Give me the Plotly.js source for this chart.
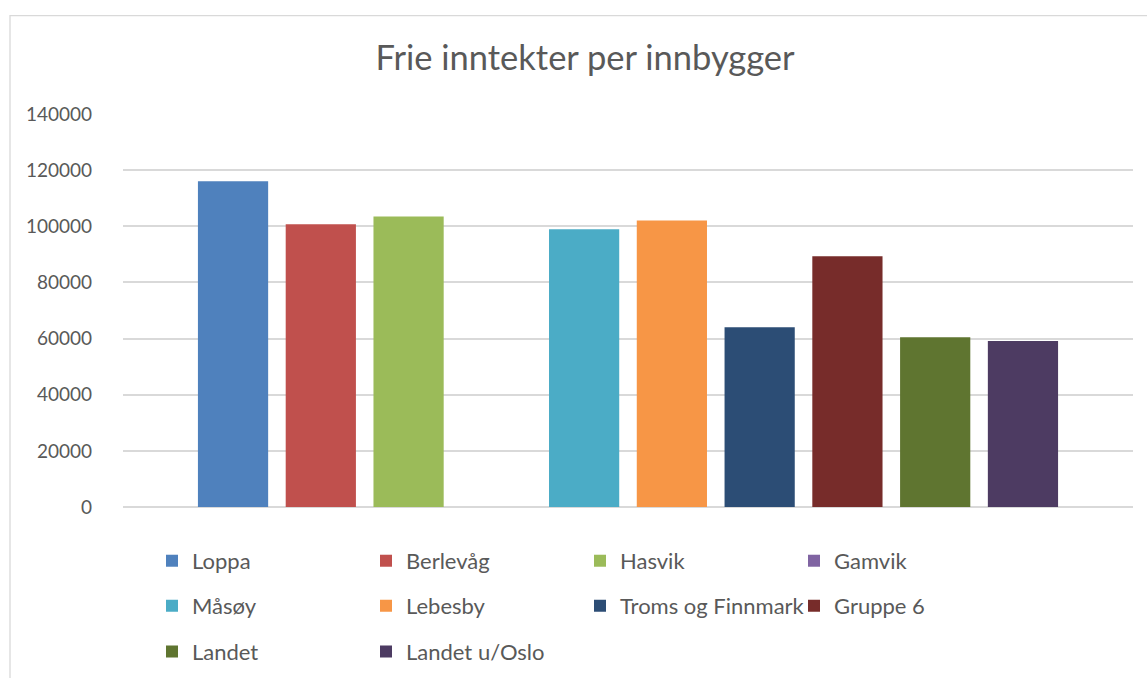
<!DOCTYPE html>
<html>
<head>
<meta charset="utf-8">
<script src="https://cdn.plot.ly/plotly-3.0.1.min.js"></script>
<style>
  html, body { margin: 0; padding: 0; background: #ffffff; }
  #chart { width: 1147px; height: 678px; }
</style>
</head>
<body>
<div id="chart"></div>
<script>
// ---- data ----
const category = ['Frie inntekter per innbygger'];
const seriesNames = ['Loppa', 'Berlevåg', 'Hasvik', 'Gamvik', 'Måsøy', 'Lebesby',
                     'Troms og Finnmark', 'Gruppe 6', 'Landet', 'Landet u/Oslo'];
const seriesValues = [116000, 100700, 103500, null, 98900, 102100, 64000, 89300, 60500, 59100];
const seriesColors = ['#4F81BD', '#C0504D', '#9BBB59', '#8064A2', '#4BACC6', '#F79646',
                      '#2C4D75', '#772C2A', '#5F7530', '#4D3B62'];
const yTicks = [0, 20000, 40000, 60000, 80000, 100000, 120000, 140000];
const chartTitle = 'Frie inntekter per innbygger';

// legend rows (4 per row, like the reference)
const legendIds = ['legend', 'legend', 'legend', 'legend',
                   'legend2', 'legend2', 'legend2', 'legend2',
                   'legend3', 'legend3'];

const FONT = 'Lato, "Open Sans", sans-serif';
const TXT = '#595959';

const traces = seriesNames.map((name, i) => ({
  type: 'bar',
  name: name,
  x: category,
  y: [seriesValues[i]],
  marker: { color: seriesColors[i], line: { width: 0 } },
  legend: legendIds[i],
  hoverinfo: 'name+y'
}));

// plot area geometry (px) for a few paper-coordinate conversions
const W = 1147, H = 678;
const mL = 123, mR = 14, mT = 113.5, mB = 171;
const pw = W - mL - mR, ph = H - mT - mB;
const px2x = p => (p - mL) / pw;
const py2y = p => (H - mB - p) / ph;

function legendAt(yPix) {
  return {
    orientation: 'h',
    x: px2x(152), xanchor: 'left',
    y: py2y(yPix), yanchor: 'middle',
    entrywidth: 169, entrywidthmode: 'pixels',
    font: { family: FONT, size: 22, color: TXT },
    bgcolor: 'rgba(0,0,0,0)',
    borderwidth: 0,
    traceorder: 'normal'
  };
}

const layout = {
  width: W, height: H,
  margin: { l: mL, r: mR, t: mT, b: mB, pad: 0, autoexpand: false },
  paper_bgcolor: '#ffffff',
  plot_bgcolor: '#ffffff',
  font: { family: FONT, color: TXT },
  title: {
    text: chartTitle,
    font: { family: FONT, size: 34.5, color: TXT },
    x: 585 / W, xanchor: 'center', xref: 'container',
    y: 1 - 58 / H, yanchor: 'middle', yref: 'container'
  },
  barmode: 'group',
  bargap: 0.131,
  bargroupgap: 0.2,
  xaxis: {
    showticklabels: false, showgrid: false, zeroline: false,
    showline: false, ticks: '', fixedrange: true
  },
  yaxis: {
    range: [0, 140000],
    tickmode: 'array', tickvals: yTicks, ticktext: yTicks.map(String),
    showgrid: true, gridcolor: '#d9d9d9', gridwidth: 1.6,
    zeroline: true, zerolinecolor: '#d9d9d9', zerolinewidth: 1.6,
    showline: false, ticks: '',
    ticklabelstandoff: 30,
    tickfont: { family: FONT, size: 19, color: TXT },
    fixedrange: true
  },
  legend: legendAt(561),
  legend2: legendAt(606),
  legend3: legendAt(652),
  shapes: [{
    type: 'rect', xref: 'paper', yref: 'paper',
    x0: px2x(10), x1: px2x(1160), y0: py2y(700), y1: py2y(15),
    line: { color: '#d9d9d9', width: 1.3 }, fillcolor: 'rgba(0,0,0,0)',
    layer: 'below'
  }],
  showlegend: true
};

Plotly.newPlot('chart', traces, layout, { displayModeBar: false, responsive: false });
</script>
</body>
</html>
